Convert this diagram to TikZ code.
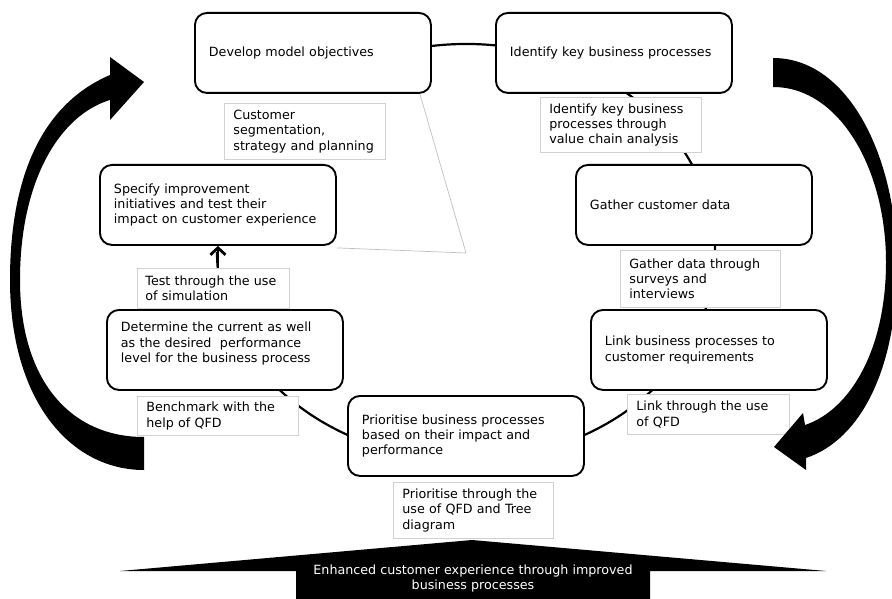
\documentclass[tikz,border=0pt]{standalone}
\usepackage{fontspec}
\setmainfont{DejaVu Sans}
\usetikzlibrary{arrows.meta,calc}
\begin{document}
\begin{tikzpicture}[x=1pt,y=-1pt,
  txt/.style={font=\fontsize{12.7}{15.3}\selectfont},
  stepbox/.style={txt, draw=black, line width=1.9pt, rounded corners=12pt, fill=white,
    anchor=north west, minimum width=236pt, minimum height=80pt, text width=208pt,
    inner xsep=14pt, inner ysep=0pt, align=left},
  lblbox/.style={txt, draw=black!18, line width=0.8pt, fill=white, anchor=north west,
    inner xsep=9pt, inner ysep=0pt, align=left},
  ring/.style={line width=2.2pt},
  greyline/.style={draw=black!25, line width=0.7pt},
  testarrow/.style={line width=2.8pt, -{Straight Barb[length=7pt,width=15pt]}},
  bigarrow/.style={fill=black},
]
\useasboundingbox (0,0) rectangle (892,599);

% ring of connectors
\draw[ring] (427.05,46.56) arc[start angle=261, end angle=540, x radius=249, y radius=208];

% step boxes
\node[stepbox] (develop) at (194,12) {Develop model objectives};
\node[stepbox] (identify) at (495,12) {Identify key business processes};
\node[stepbox] (gather) at (575,164) {Gather customer data};
\node[stepbox] (link) at (590,309) {Link business processes to\\customer requirements};
\node[stepbox] (prioritise) at (347,395) {Prioritise business processes\\based on their impact and\\performance};
\node[stepbox] (determine) at (106,309) {Determine the current as well\\as the desired\ \ performance\\level for the business process\\\mbox{}};
\node[stepbox] (specify) at (99,164) {Specify improvement\\initiatives and test their\\impact on customer experience};

% thin grey link
\coordinate (apex) at (466,253);
\draw[greyline] ($(develop.south east)+(-12,0)$) -- (apex) -- ($(specify.south east)+(0,2)$);

% label boxes
\node[lblbox, text width=143pt, minimum height=56pt] (custLbl) at (224,103) {Customer\\segmentation,\\strategy and planning};
\node[lblbox, text width=143pt, minimum height=55pt] (idLbl) at (540,97) {Identify key business\\processes through\\value chain analysis};
\node[lblbox, text width=142pt, minimum height=57pt] (gathLbl) at (620,250) {Gather data through\\surveys and\\interviews};
\node[lblbox, text width=144pt, minimum height=40pt] (linkLbl) at (627,394) {Link through the use\\of QFD};
\node[lblbox, text width=142pt, minimum height=56pt] (prioLbl) at (393,482) {Prioritise through the\\use of QFD and Tree\\diagram};
\node[lblbox, text width=143pt, minimum height=39pt] (benchLbl) at (137,396) {Benchmark with the\\help of QFD};
\node[lblbox, inner xsep=8pt, text width=136pt, minimum height=40pt] (testLbl) at (137,268) {Test through the use\\of simulation};

% arrow from test label to specify box
\draw[testarrow] (testLbl.north -| specify.south) -- (specify.south);

% big curved arrows
\fill[bigarrow] (144,470) .. controls (70,470) and (10,400) .. (10,280)
  .. controls (10,180) and (40,105) .. (110,75) -- (110,57) -- (144,82) -- (110,120) -- (110,100)
  .. controls (60,115) and (20,180) .. (20,280)
  .. controls (20,380) and (70,437) .. (144,437) -- cycle;
\fill[bigarrow] (773,58) .. controls (850,58) and (897,160) .. (897,265)
  .. controls (897,370) and (860,440) .. (806,458) -- (806,470) -- (774,447) -- (803,413) -- (805,425)
  .. controls (850,410) and (886,350) .. (886,262)
  .. controls (886,170) and (840,87) .. (773,87) -- cycle;

% bottom banner
\fill[bigarrow] (120,571) -- (472,540) -- (826,571) -- (650,571) -- (650,600) -- (296,600) -- (296,571) -- cycle;
\node[txt, text=white, align=center] (banner) at (473,578.5) {Enhanced customer experience through improved\\business processes};
\end{tikzpicture}
\end{document}
